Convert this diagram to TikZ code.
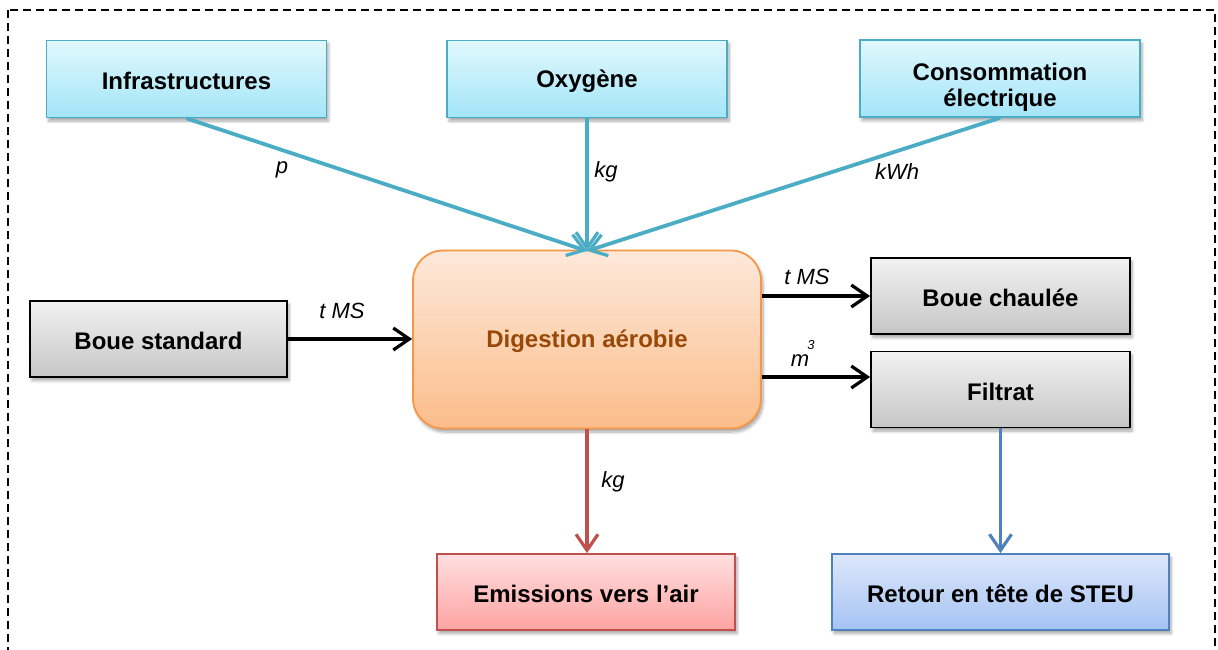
\documentclass[tikz,border=0pt]{standalone}
\usepackage{fontspec}
\setmainfont{Liberation Sans}
\usetikzlibrary{arrows.meta,shadows.blur}

\definecolor{aqualine}{HTML}{4BACC6}
\definecolor{aquatop}{HTML}{E0F8FE}
\definecolor{aquabot}{HTML}{A3E5F7}
\definecolor{greytop}{HTML}{F2F2F2}
\definecolor{greybot}{HTML}{C6C6C6}
\definecolor{orangeline}{HTML}{F79646}
\definecolor{orangetop}{HTML}{FDE9DA}
\definecolor{orangebot}{HTML}{FBBD8A}
\definecolor{digtext}{HTML}{984807}
\definecolor{redline}{HTML}{C0504D}
\definecolor{redtop}{HTML}{FFDFDF}
\definecolor{redbot}{HTML}{FFA3A3}
\definecolor{blueline}{HTML}{4F81BD}
\definecolor{bluetop}{HTML}{DDE7FA}
\definecolor{bluebot}{HTML}{A5C3F4}

\newcommand{\boxfont}{\fontsize{24}{27}\selectfont\bfseries}
\newcommand{\unitfont}{\fontsize{22}{24}\selectfont\itshape}
% shift a box's contents down without changing its centring
\newcommand{\lowered}[2]{\raisebox{-#1}[\height][\depth]{#2}}

\begin{document}
\begin{tikzpicture}[x=1pt,y=-1pt,
  softshadow/.style={blur shadow={shadow blur steps=6, shadow xshift=2pt, shadow yshift=-3.5pt, shadow opacity=35, shadow blur radius=3pt}},
  flowbox/.style={rectangle, line width=1.8pt, inner sep=0pt, align=center, font=\boxfont, softshadow},
  inbox/.style={flowbox, draw=aqualine, top color=aquatop, bottom color=aquabot, minimum width=280pt, minimum height=77pt},
  greybox/.style={flowbox, draw=black, top color=greytop, bottom color=greybot, minimum height=76pt},
  tip/.style={-{Straight Barb[length=16pt, width=22pt, line width=3.2pt]}},
  aquaarrow/.style={draw=aqualine, line width=3.8pt, tip},
  blackarrow/.style={draw=black, line width=3.2pt, tip},
  redarrow/.style={draw=redline, line width=3.4pt, tip},
  bluearrow/.style={draw=blueline, line width=3.4pt, tip},
  unit/.style={font=\unitfont, inner sep=0pt}
]
\useasboundingbox (0,0) rectangle (1218,650);

% dashed frame around the whole flow
\begin{scope}
  \clip (0,0) rectangle (1218,650);
  \draw[line width=1.5pt, dash pattern=on 8pt off 5pt] (8,10) rectangle (1215,680);
\end{scope}

% inputs
\node[inbox] (infra) at (186.5,79) {\lowered{2pt}{Infrastructures}};
\node[inbox] (oxy) at (587,79) {\lowered{2pt}{Oxygène}};
\node[inbox] (elec) at (1000,78.5)
  {\lowered{9.5pt}{\begin{tabular}{@{}c@{}}Consommation\\[-1pt]électrique\end{tabular}}};

% process
\node[flowbox, draw=orangeline, top color=orangetop, bottom color=orangebot,
      rounded corners=30pt, minimum width=348pt, minimum height=178pt,
      text=digtext] (dig) at (587,339.5) {\lowered{2pt}{Digestion aérobie}};

% sludge in and out
\node[greybox, minimum width=257pt] (boue) at (158.5,339) {\lowered{2pt}{Boue standard}};
\node[greybox, minimum width=259pt] (chaul) at (1000.5,296) {\lowered{2pt}{Boue chaulée}};
\node[greybox, minimum width=259pt] (filtrat) at (1000.5,389.5) {\lowered{2pt}{Filtrat}};

% outputs
\node[flowbox, draw=redline, top color=redtop, bottom color=redbot,
      minimum width=298pt, minimum height=76pt] (air) at (586,592) {\lowered{2pt}{Emissions vers l’air}};
\node[flowbox, draw=blueline, top color=bluetop, bottom color=bluebot,
      minimum width=337pt, minimum height=76pt] (steu) at (1000.5,592) {\lowered{2pt}{Retour en tête de STEU}};

% connectors
\coordinate (dtop) at (587,251);
\draw[aquaarrow] (infra.south) -- (dtop);
\draw[aquaarrow] (oxy.south) -- (dtop);
\draw[aquaarrow] (elec.south) -- (dtop);

\draw[blackarrow] (boue.east) -- (dig.west |- boue.east);
\draw[blackarrow] (dig.east |- chaul.west) -- (chaul.west);
\draw[blackarrow] (dig.east |- 0,377) -- (filtrat.west |- 0,377);
\draw[redarrow] (dig.south) -- (air.north -| dig.south);
\draw[bluearrow] (filtrat.south) -- (steu.north);

% flow units
\node[unit] (up) at (282,170) {p};
\node[unit] (ukg) at (606,172) {kg};
\node[unit] (ukwh) at (897,172) {kWh};
\node[unit] (utms) at (342,311) {t MS};
\node[unit] (utms2) at (807,277) {t MS};
\node[unit] (um) at (800,361) {m};
\node[font=\fontsize{13}{13}\selectfont\itshape, inner sep=0pt] (u3) at (811,345) {3};
\node[unit] (ukg2) at (613,482) {kg};
\end{tikzpicture}
\end{document}
